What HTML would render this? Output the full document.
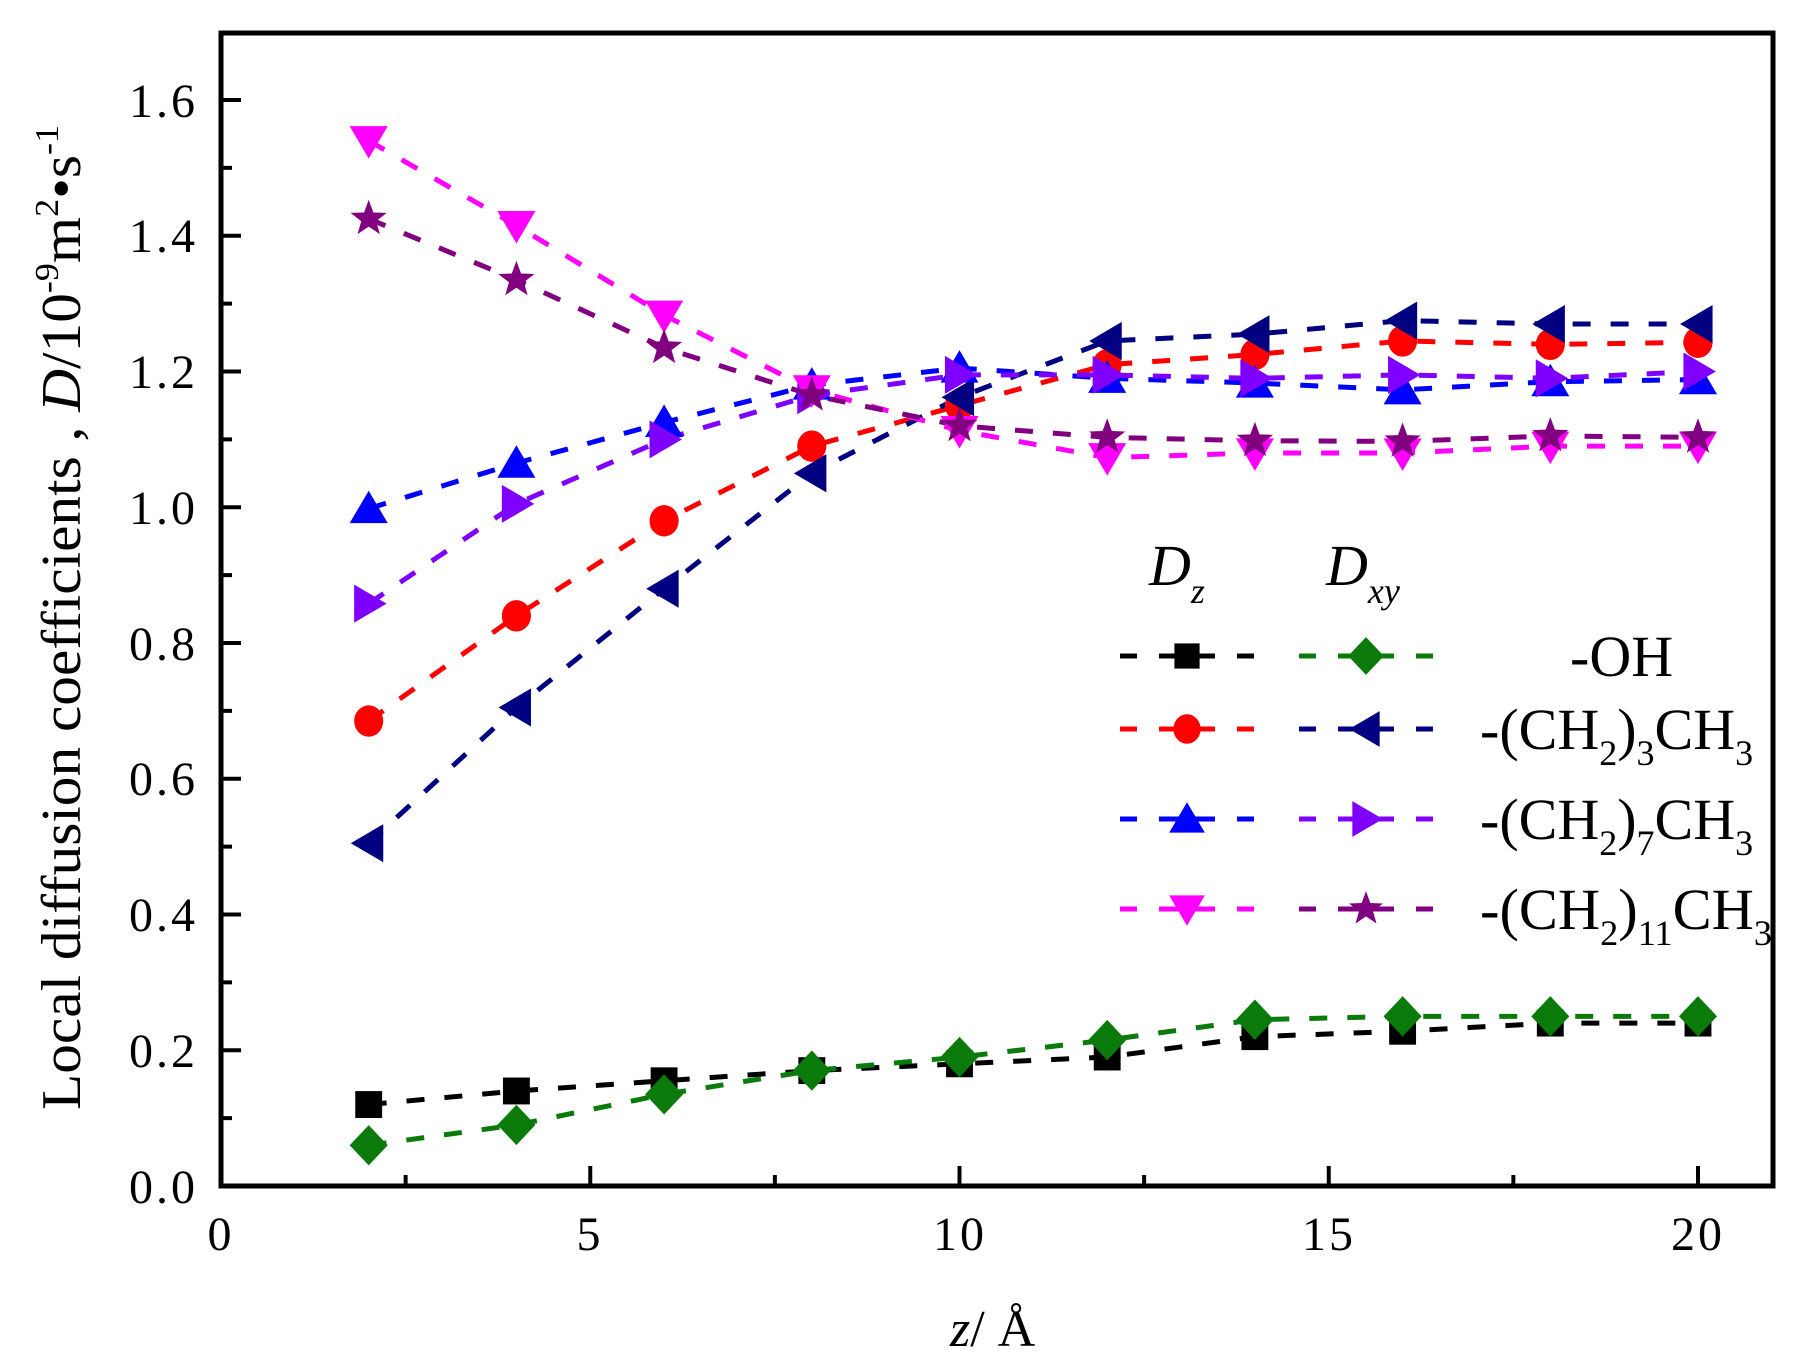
<!DOCTYPE html>
<html><head><meta charset="utf-8"><style>
html,body{margin:0;padding:0;background:#fff;}
svg{display:block;}
text{font-family:"Liberation Serif","DejaVu Serif",serif;fill:#000;}
</style></head><body>
<svg id="c" width="1801" height="1368" viewBox="0 0 1801 1368" xmlns="http://www.w3.org/2000/svg">
<g id="series"></g>
<g id="axes" stroke="#000" stroke-width="5" fill="none">
<rect x="221" y="33" width="1552" height="1153"/>
</g>
<g id="ticks" stroke="#000" stroke-width="4"></g>
<g font-size="48" text-anchor="end" letter-spacing="3">
<text x="198" y="1203">0.0</text>
<text x="198" y="1067">0.2</text>
<text x="198" y="931">0.4</text>
<text x="198" y="795">0.6</text>
<text x="198" y="660">0.8</text>
<text x="198" y="524">1.0</text>
<text x="198" y="388">1.2</text>
<text x="198" y="252">1.4</text>
<text x="198" y="117">1.6</text>
</g>
<g font-size="48" text-anchor="middle" letter-spacing="3">
<text x="221" y="1250">0</text>
<text x="590" y="1250">5</text>
<text x="960" y="1250">10</text>
<text x="1329" y="1250">15</text>
<text x="1698" y="1250">20</text>
</g>
<text x="950" y="1346" font-size="52"><tspan font-style="italic">z</tspan>/ Å</text>
<text transform="translate(80,1110) rotate(-90)" font-size="56" textLength="985" lengthAdjust="spacingAndGlyphs">Local diffusion coefficients , <tspan font-style="italic">D</tspan>/10<tspan dy="-22" font-size="34">-9</tspan><tspan dy="22">m</tspan><tspan dy="-22" font-size="34">2</tspan><tspan dy="22">•s</tspan><tspan dy="-22" font-size="34">-1</tspan></text>
<g font-size="58">
<text x="1149" y="585" font-style="italic">D<tspan dy="18" font-size="36">z</tspan></text>
<text x="1326" y="585" font-style="italic">D<tspan dy="18" font-size="36">xy</tspan></text>
<text x="1570" y="676">-OH</text>
<text x="1480" y="749">-(CH<tspan dy="16" font-size="36">2</tspan><tspan dy="-16">)</tspan><tspan dy="16" font-size="36">3</tspan><tspan dy="-16">CH</tspan><tspan dy="16" font-size="36">3</tspan></text>
<text x="1480" y="839">-(CH<tspan dy="16" font-size="36">2</tspan><tspan dy="-16">)</tspan><tspan dy="16" font-size="36">7</tspan><tspan dy="-16">CH</tspan><tspan dy="16" font-size="36">3</tspan></text>
<text x="1480" y="929" textLength="292" lengthAdjust="spacingAndGlyphs">-(CH<tspan dy="16" font-size="36">2</tspan><tspan dy="-16">)</tspan><tspan dy="16" font-size="36">11</tspan><tspan dy="-16">CH</tspan><tspan dy="16" font-size="36">3</tspan></text>
</g>
<g id="legend"></g>
</svg>
<script>
var NS="http://www.w3.org/2000/svg";
function X(v){return 221+73.85*v;}
function Y(v){return 1186-678.75*v;}
function el(p,t,a){var e=document.createElementNS(NS,t);for(var k in a)e.setAttribute(k,a[k]);p.appendChild(e);return e;}
var tk=document.getElementById('ticks');
for(var i=1;i<=16;i++){var y=Y(i*0.1);var L=(i%2==0)?20:11;el(tk,'line',{x1:221,y1:y,x2:221+L,y2:y});}
for(var i=1;i<=8;i++){var x=X(i*2.5);if(x>1770)break;var L=(i%2==0)?20:11;el(tk,'line',{x1:x,y1:1186,x2:x,y2:1186-L});}
function marker(g,type,x,y,c,s){s=s||1;
 if(type=='sq')el(g,'rect',{x:x-12*s,y:y-12*s,width:24*s,height:24*s,fill:c});
 else if(type=='ci')el(g,'ellipse',{cx:x,cy:y,rx:13*s,ry:14*s,fill:c});
 else if(type=='di')el(g,'polygon',{points:[x,y-18*s,x+17*s,y,x,y+18*s,x-17*s,y].join(' '),fill:c});
 else if(type=='up')el(g,'polygon',{points:[x,y-16*s,x+17*s,y+13*s,x-17*s,y+13*s].join(' '),fill:c});
 else if(type=='dn')el(g,'polygon',{points:[x,y+16*s,x+17*s,y-13*s,x-17*s,y-13*s].join(' '),fill:c});
 else if(type=='lt')el(g,'polygon',{points:[x-16*s,y,x+13*s,y-17*s,x+13*s,y+17*s].join(' '),fill:c});
 else if(type=='rt')el(g,'polygon',{points:[x+16*s,y,x-13*s,y-17*s,x-13*s,y+17*s].join(' '),fill:c});
 else if(type=='st'){var p=[];for(var k=0;k<10;k++){var r=(k%2?7:17)*s;var a=-Math.PI/2+k*Math.PI/5;p.push(x+r*Math.cos(a),y+r*Math.sin(a));}el(g,'polygon',{points:p.join(' '),fill:c});}
}
var S=[
['sq','#000',[0.12,0.14,0.155,0.17,0.18,0.19,0.22,0.228,0.24,0.24]],
['di','#0a7a0a',[0.06,0.09,0.135,0.17,0.19,0.215,0.245,0.25,0.25,0.25]],
['ci','#ff0000',[0.685,0.84,0.98,1.09,1.15,1.21,1.225,1.245,1.24,1.243]],
['lt','#000080',[0.505,0.705,0.88,1.05,1.162,1.245,1.255,1.275,1.27,1.27]],
['up','#0000ff',[0.998,1.065,1.125,1.18,1.205,1.19,1.183,1.173,1.185,1.188]],
['rt','#8000ff',[0.858,1.005,1.1,1.165,1.195,1.195,1.19,1.195,1.19,1.2]],
['dn','#ff00ff',[1.54,1.415,1.283,1.173,1.113,1.073,1.08,1.08,1.09,1.09]],
['st','#800080',[1.425,1.335,1.235,1.165,1.12,1.103,1.098,1.097,1.105,1.103]]
];
var sg=document.getElementById('series');
S.forEach(function(s){var pts=s[2].map(function(v,i){return X(2+2*i)+','+Y(v);}).join(' ');
 el(sg,'polyline',{points:pts,fill:'none',stroke:s[1],'stroke-width':5,'stroke-dasharray':'18 20'});});
S.forEach(function(s){s[2].forEach(function(v,i){marker(sg,s[0],X(2+2*i),Y(v),s[1],1.12);});});
var lg=document.getElementById('legend');var rows=[656,729,819,909];
for(var r=0;r<4;r++){for(var c=0;c<2;c++){var s=S[r*2+c];var x0=c?1299:1120;var y=rows[r];
 el(lg,'line',{x1:x0,y1:y,x2:x0+134,y2:y,stroke:s[1],'stroke-width':5,'stroke-dasharray':'17 22'});
 el(lg,'line',{x1:x0+39,y1:y,x2:x0+95,y2:y,stroke:s[1],'stroke-width':5});
 marker(lg,s[0],x0+67,y,s[1],1.05);}}
</script>
</body></html>
